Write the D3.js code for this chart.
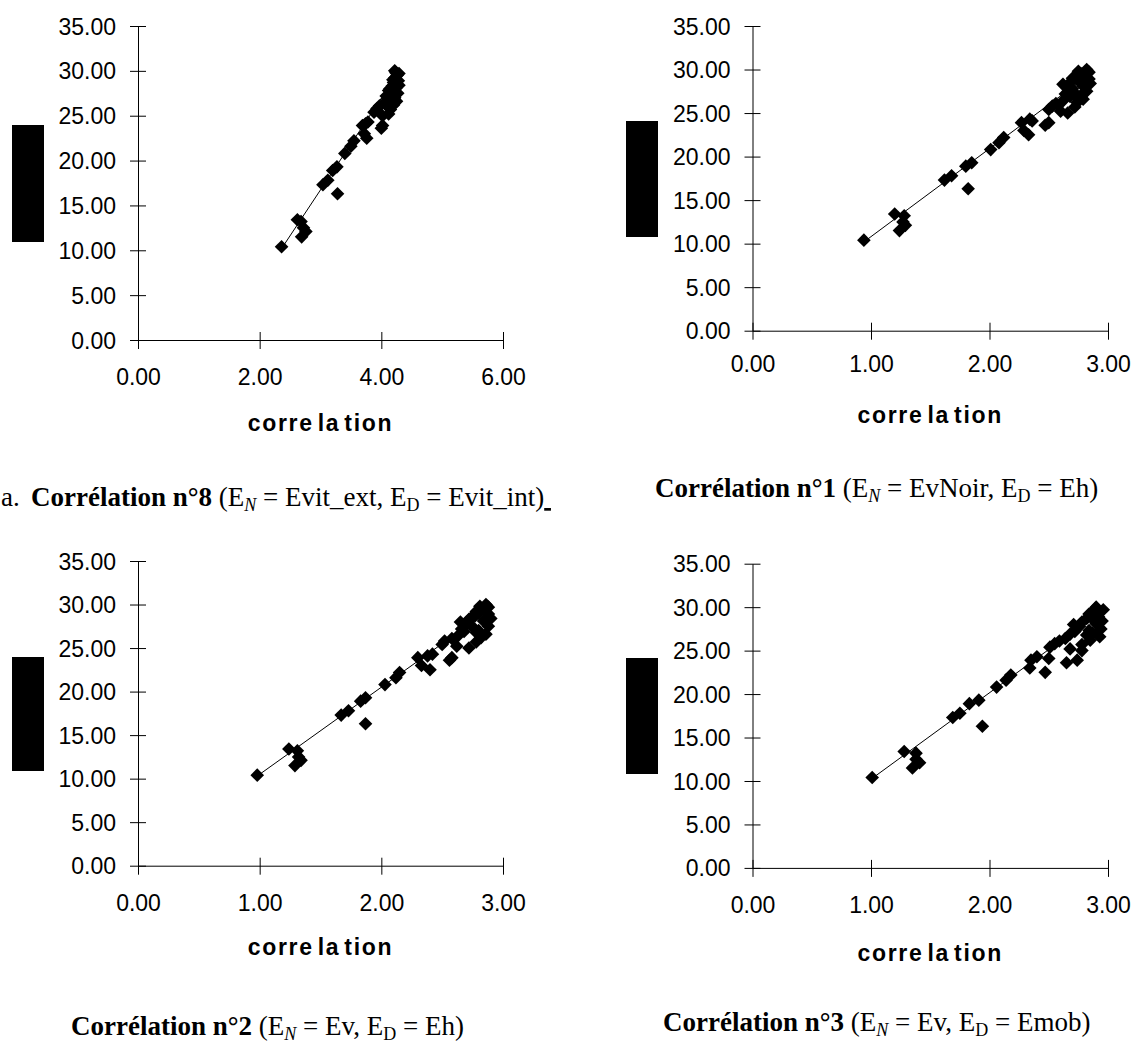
<!DOCTYPE html>
<html><head><meta charset="utf-8">
<script src="https://cdn.jsdelivr.net/npm/d3@7/dist/d3.min.js"></script>
<style>
body{margin:0;background:#fff;}
svg{display:block;}
.tick text{font-family:"Liberation Sans",Arial,sans-serif;font-size:23px;fill:#000;}
.cap{font-family:"Liberation Serif","Times New Roman",serif;font-size:27px;fill:#000;}
.xt{font-family:"Liberation Sans",Arial,sans-serif;font-size:23px;font-weight:bold;fill:#000;letter-spacing:1.7px;}
</style></head><body>
<svg id="c" width="1136" height="1045"></svg>
<script>
// shared y values (same observations in every panel)
const yValues = [10.4,13.4,13.2,11.5,12.1,12.5,17.3,17.8,18.9,19.3,16.3,20.8,21.6,22.2,23.9,24.3,22.5,23.0,23.6,23.9,24.1,25.4,25.8,25.2,25.7,26.1,26.4,26.6,26.9,27.2,27.5,27.8,28.0,28.3,28.4,28.7,28.9,29.2,29.5,29.8,30.0,29.7,27.0,26.2,25.0,26.8,28.1,27.3,29.0,28.5];
// x values per correlation
const xCorr8 = [2.36,2.62,2.68,2.69,2.76,2.72,3.04,3.12,3.20,3.27,3.28,3.40,3.50,3.55,3.69,3.78,3.76,3.72,4.00,4.02,3.74,3.88,3.93,4.12,4.15,3.97,4.05,4.25,4.10,4.08,4.27,4.12,4.14,4.18,4.29,4.20,4.28,4.22,4.26,4.24,4.22,4.29,4.22,4.20,4.02,4.18,4.24,4.15,4.19,4.22];
const xCorr1 = [0.94,1.20,1.28,1.24,1.29,1.27,1.62,1.68,1.80,1.85,1.82,2.01,2.08,2.12,2.27,2.34,2.33,2.29,2.47,2.50,2.36,2.50,2.53,2.60,2.72,2.56,2.62,2.79,2.68,2.64,2.82,2.70,2.66,2.62,2.85,2.75,2.84,2.72,2.78,2.75,2.82,2.84,2.77,2.74,2.66,2.74,2.79,2.72,2.70,2.68];
const xCorr2 = [0.98,1.24,1.31,1.29,1.34,1.32,1.67,1.73,1.83,1.87,1.87,2.03,2.12,2.15,2.30,2.42,2.40,2.33,2.56,2.58,2.38,2.50,2.52,2.62,2.78,2.58,2.63,2.86,2.68,2.66,2.88,2.70,2.65,2.72,2.90,2.77,2.88,2.78,2.82,2.81,2.86,2.88,2.80,2.82,2.72,2.78,2.84,2.76,2.80,2.74];
const xCorr3 = [1.01,1.28,1.38,1.35,1.41,1.38,1.69,1.75,1.83,1.91,1.94,2.06,2.14,2.18,2.35,2.40,2.47,2.34,2.65,2.74,2.50,2.51,2.55,2.68,2.78,2.59,2.64,2.93,2.68,2.72,2.94,2.76,2.71,2.78,2.95,2.82,2.92,2.84,2.90,2.89,2.90,2.96,2.87,2.85,2.78,2.82,2.90,2.84,2.86,2.88];
// trend line end points [x, y]
const trend8 = [[2.40,10.6],[4.25,29.5]];
const trend1 = [[0.97,10.5],[2.85,29.5]];
const trend2 = [[1.00,10.5],[2.90,29.5]];
const trend3 = [[1.03,10.5],[2.95,29.6]];
const yTicks = [0,5,10,15,20,25,30,35];
const xTicks8 = [0,2,4,6];
const xTicks123 = [0,1,2,3];
const axisTitle = "correlation";

const panels = [
  {xs:xCorr8, trend:trend8, xt:xTicks8, xmax:6, L:138, R:503, T:26, B:340, xl:37, tl:83, rect:[12,125,32,117], cap:{x:31, y:506, pre:"a.", num:"8", en:"Evit_ext", ed:"Evit_int", ul:true}},
  {xs:xCorr1, trend:trend1, xt:xTicks123, xmax:3, L:752.5, R:1108, T:26, B:330.7, xl:33, tl:84, rect:[626,121,32,116], cap:{x:655, y:497, num:"1", en:"EvNoir", ed:"Eh"}},
  {xs:xCorr2, trend:trend2, xt:xTicks123, xmax:3, L:138, R:503, T:561, B:865.7, xl:37, tl:81, rect:[12,657,32,114], cap:{x:71, y:1035, num:"2", en:"Ev", ed:"Eh"}},
  {xs:xCorr3, trend:trend3, xt:xTicks123, xmax:3, L:752.5, R:1108, T:563.7, B:867.9, xl:37, tl:85, rect:[626,658,32,116], cap:{x:663, y:1031, num:"3", en:"Ev", ed:"Emob"}}
];

const svg = d3.select("#c");
const fmt = d3.format(".2f");
const diamond = "M0,-6.8L6.8,0L0,6.8L-6.8,0Z";

panels.forEach(p => {
  const x = d3.scaleLinear().domain([0,p.xmax]).range([p.L,p.R]);
  const y = d3.scaleLinear().domain([0,35]).range([p.B,p.T]);

  // redacted y-axis title
  svg.append("rect").attr("x",p.rect[0]).attr("y",p.rect[1]).attr("width",p.rect[2]).attr("height",p.rect[3]).attr("fill","#000");

  const ya = svg.append("g").attr("transform",`translate(${p.L},0)`)
    .call(d3.axisLeft(y).tickValues(yTicks).tickFormat(fmt).tickSizeOuter(0).tickSizeInner(8));
  ya.selectAll(".tick line").attr("x1",-8).attr("x2",8).attr("stroke","#000");
  ya.selectAll(".tick text").attr("x",-22).attr("dy","0.35em");
  ya.select(".domain").attr("stroke","#000");

  const xa = svg.append("g").attr("transform",`translate(0,${p.B})`)
    .call(d3.axisBottom(x).tickValues(p.xt).tickFormat(fmt).tickSizeOuter(0).tickSizeInner(8));
  xa.selectAll(".tick line").attr("y1",-8).attr("y2",9).attr("stroke","#000");
  xa.selectAll(".tick text").attr("y",p.xl).attr("dy","0.35em");
  xa.select(".domain").attr("stroke","#000");

  // axis title
  const t = svg.append("text").attr("class","xt").attr("text-anchor","middle")
    .attr("x",(p.L+p.R)/2).attr("y",p.B+p.tl).attr("dy","0.35em");
  t.append("tspan").text(axisTitle.slice(0,5));
  t.append("tspan").attr("dx",4).text(axisTitle.slice(5,7));
  t.append("tspan").attr("dx",4).text(axisTitle.slice(7));

  // trend line
  svg.append("line")
    .attr("x1",x(p.trend[0][0])).attr("y1",y(p.trend[0][1]))
    .attr("x2",x(p.trend[1][0])).attr("y2",y(p.trend[1][1]))
    .attr("stroke","#000").attr("stroke-width",1);

  // points
  svg.append("g").selectAll("path").data(yValues.map((v,i)=>[p.xs[i],v])).join("path")
    .attr("d",diamond).attr("fill","#000")
    .attr("transform",d=>`translate(${x(d[0])},${y(d[1])})`);

  // caption
  const c = p.cap;
  if (c.pre) svg.append("text").attr("class","cap").attr("x",1).attr("y",c.y).text(c.pre);
  const ct = svg.append("text").attr("class","cap").attr("x",c.x).attr("y",c.y);
  ct.append("tspan").attr("font-weight","bold").text("Corrélation n°"+c.num+" ");
  ct.append("tspan").text("(E");
  ct.append("tspan").attr("font-style","italic").attr("font-size","18px").attr("dy",5).text("N");
  ct.append("tspan").attr("dy",-5).text(" = "+c.en+", E");
  ct.append("tspan").attr("font-size","18px").attr("dy",5).text("D");
  ct.append("tspan").attr("dy",-5).text(" = "+c.ed+")");
  if (c.ul) ct.append("tspan").attr("text-decoration","underline").text("\u00a0");
});
</script>
</body></html>
